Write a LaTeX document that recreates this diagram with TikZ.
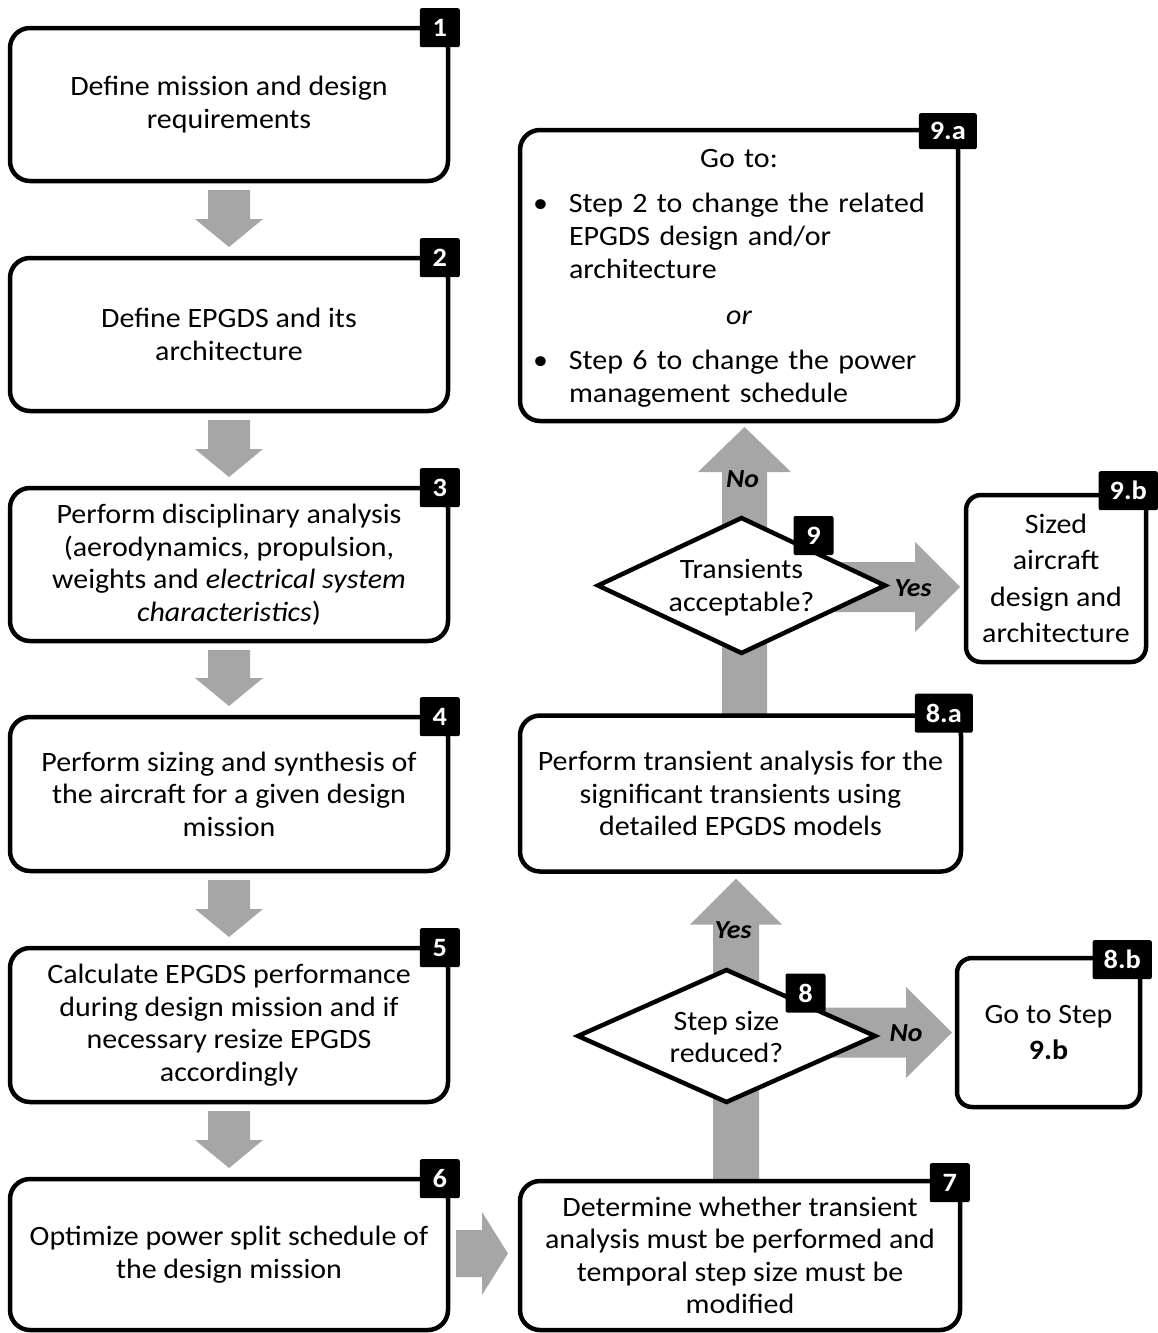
\documentclass[tikz,border=0pt]{standalone}
\usepackage{fontspec}
\setmainfont{Carlito}[FakeStretch=1.07]
\usetikzlibrary{calc,shapes.geometric}
\definecolor{flowgray}{RGB}{166,166,166}
\pgfdeclarelayer{background}
\pgfsetlayers{background,main}

\newcommand\bodyfont{\fontsize{28}{32.5}\selectfont}
\newcommand\listfont{\fontsize{28}{33}\selectfont}
\newcommand\widefont{\fontsize{28}{36.5}\selectfont}
\newcommand\tagfont{\fontsize{26.5}{30}\selectfont\bfseries}
\newcommand\answerfont{\fontsize{26}{30}\selectfont\bfseries\itshape}

% block arrow: start, tip, shaft half width, head half width, head length
\newcommand\blockarrow[5]{%
  \coordinate (hb) at ($(#2)!#5!(#1)$);
  \fill[flowgray] ($(#1)!#3!90:(#2)$) -- ($(hb)!#3!-90:(#1)$) -- ($(hb)!#4!-90:(#1)$)
    -- (#2) -- ($(hb)!#4!90:(#1)$) -- ($(hb)!#3!90:(#1)$) -- ($(#1)!#3!-90:(#2)$) -- cycle;
}
% bulleted entry: bullet, then a ragged block of lines
\newcommand\bitem[1]{\noindent\makebox[30pt][l]{\hspace*{-6pt}\textbullet}\parbox[t]{370pt}{\raggedright #1\strut}\par}

\tikzset{
  stepbox/.style={draw, line width=4.5pt, rounded corners=20pt, fill=white,
    align=center, inner sep=0pt, outer sep=0pt, font=\bodyfont},
  tag/.style={fill=black, text=white, rounded corners=2pt, font=\tagfont,
    minimum width=40pt, minimum height=39pt, inner xsep=11pt, inner ysep=3pt, anchor=north east},
  decision/.style={diamond, draw, line width=4.5pt, fill=white, inner sep=0pt, outer sep=0pt},
  answer/.style={font=\answerfont, inner sep=0pt},
}

\begin{document}
\begin{tikzpicture}[x=1pt, y=-1pt]
\useasboundingbox (0,0) rectangle (1158,1333);

% left column
\node[stepbox, minimum width=438pt, minimum height=153pt] (b1) at (229,104.5)
  {Define mission and design\\requirements};
\node[stepbox, minimum width=438pt, minimum height=153pt] (b2) at (229,334.5)
  {Define EPGDS and its\\architecture};
\node[stepbox, minimum width=438pt, minimum height=153pt] (b3) at (229,564.5)
  {Perform disciplinary analysis\\(aerodynamics, propulsion,\\weights and \textit{electrical system}\\\textit{characteristics})};
\node[stepbox, minimum width=438pt, minimum height=154pt] (b4) at (229,794)
  {Perform sizing and synthesis of\\the aircraft for a given design\\mission};
\node[stepbox, minimum width=438pt, minimum height=154pt] (b5) at (229,1025)
  {Calculate EPGDS performance\\during design mission and if\\necessary resize EPGDS\\accordingly};
\node[stepbox, minimum width=438pt, minimum height=151pt] (b6) at (229,1254.5)
  {Optimize power split schedule of\\the design mission};

% right column
\node[stepbox, minimum width=440pt, minimum height=149pt] (b7) at (740,1255.5)
  {Determine whether transient\\analysis must be performed and\\temporal step size must be\\modified};
\node[stepbox, minimum width=441pt, minimum height=156pt] (b8a) at (740.5,793.5)
  {Perform transient analysis for the\\significant transients using\\detailed EPGDS models};
\node[stepbox, minimum width=438pt, minimum height=291pt] (b9a) at (739,275.5) {};
\node[font=\listfont, text width=400pt, align=left, inner sep=0pt,
  execute at begin node={\setlength\parindent{0pt}}] (b9atext) at ($(b9a)+(0,5)$)
  {{\centering Go to:\par}
   \vspace{12pt}
   \bitem{Step 2 to change the related\\EPGDS design and/or\\architecture}
   \vspace{12pt}
   {\centering\itshape\strut or\par}
   \vspace{12pt}
   \bitem{Step 6 to change the power\\management schedule}};
\node[stepbox, font=\widefont, rounded corners=15pt, minimum width=180pt, minimum height=167pt] (b9b) at (1056,578.5)
  {Sized\\aircraft\\design and\\architecture};
\node[stepbox, font=\widefont, rounded corners=15pt, minimum width=183pt, minimum height=149pt] (b8b) at (1048.5,1032.5)
  {Go to Step\\\textbf{9.b}};

% decisions
\node[decision, minimum width=287pt, minimum height=135pt] (d9) at (741.5,585.5) {};
\node[decision, minimum width=297pt, minimum height=132pt] (d8) at (726.5,1036) {};

% block arrows
\begin{pgfonlayer}{background}
  \coordinate (a1s) at ($(b1.south)+(0,9)$);  \coordinate (a1e) at ($(b2.north)+(0,-11)$);
  \coordinate (a2s) at ($(b2.south)+(0,9)$);  \coordinate (a2e) at ($(b3.north)+(0,-11)$);
  \coordinate (a3s) at ($(b3.south)+(0,9)$);  \coordinate (a3e) at ($(b4.north)+(0,-11)$);
  \coordinate (a4s) at ($(b4.south)+(0,9)$);  \coordinate (a4e) at ($(b5.north)+(0,-11)$);
  \coordinate (a5s) at ($(b5.south)+(0,9)$);  \coordinate (a5e) at ($(b6.north)+(0,-11)$);
  \blockarrow{a1s}{a1e}{21pt}{34pt}{28pt}
  \blockarrow{a2s}{a2e}{21pt}{34pt}{28pt}
  \blockarrow{a3s}{a3e}{21pt}{34pt}{28pt}
  \blockarrow{a4s}{a4e}{21pt}{34pt}{28pt}
  \blockarrow{a5s}{a5e}{21pt}{34pt}{28pt}
  \coordinate (a6s) at ($(b6.east)+(8,-1)$);  \coordinate (a6e) at ($(b7.west)+(-12,-2)$);
  \blockarrow{a6s}{a6e}{23.5pt}{41.5pt}{26pt}
  \coordinate (a7s) at ($(b7.north)+(-4,10)$); \coordinate (a7e) at ($(b8a.south)+(-4.5,7)$);
  \blockarrow{a7s}{a7e}{23pt}{46pt}{46pt}
  \coordinate (a8s) at ($(b8a.north)+(4,10)$); \coordinate (a8e) at ($(b9a.south)+(5.5,6)$);
  \blockarrow{a8s}{a8e}{22.5pt}{46.5pt}{45pt}
  \coordinate (y9e) at ($(b9b.west)+(-6,8.5)$); \coordinate (y9s) at (d9.center |- y9e);
  \blockarrow{y9s}{y9e}{25pt}{45pt}{45pt}
  \coordinate (n8e) at ($(b8b.west)+(-5,0)$);   \coordinate (n8s) at (d8.center |- n8e);
  \blockarrow{n8s}{n8e}{25pt}{45.5pt}{46pt}
\end{pgfonlayer}

% decision texts
\node[font=\bodyfont, align=center, inner sep=0pt] (d9t) at ($(d9)+(0,2)$) {Transients\\acceptable?};
\node[font=\bodyfont, align=center, inner sep=0pt] (d8t) at ($(d8)+(0,1)$) {Step size\\reduced?};

% step numbers
\node[tag] (t1) at ($(b1.north east)+(12,-20)$) {1};
\node[tag] (t2) at ($(b2.north east)+(12,-20)$) {2};
\node[tag] (t3) at ($(b3.north east)+(12,-20)$) {3};
\node[tag] (t4) at ($(b4.north east)+(12,-20)$) {4};
\node[tag] (t5) at ($(b5.north east)+(12,-20)$) {5};
\node[tag] (t6) at ($(b6.north east)+(12,-20)$) {6};
\node[tag] (t7) at ($(b7.north east)+(10,-18)$) {7};
\node[tag] (t8a) at ($(b8a.north east)+(12,-22)$) {8.a};
\node[tag, minimum height=36pt] (t9a) at ($(b9a.north east)+(19,-17)$) {9.a};
\node[tag] (t9b) at ($(b9b.north east)+(12,-24)$) {9.b};
\node[tag] (t8b) at ($(b8b.north east)+(12,-18)$) {8.b};
\node[tag, anchor=center] (t9) at ($(d9)+(72,-50)$) {9};
\node[tag, anchor=center] (t8) at ($(d8)+(79,-43)$) {8};

% branch answers
\node[answer] (no9) at ($(a8e)+(-2,52)$) {No};
\node[answer] (yes8) at ($(a7e)+(-3,52)$) {Yes};
\node[answer] (yes9) at ($(y9e)+(-47,1)$) {Yes};
\node[answer] (no8) at ($(n8e)+(-46,1)$) {No};
\end{tikzpicture}
\end{document}
